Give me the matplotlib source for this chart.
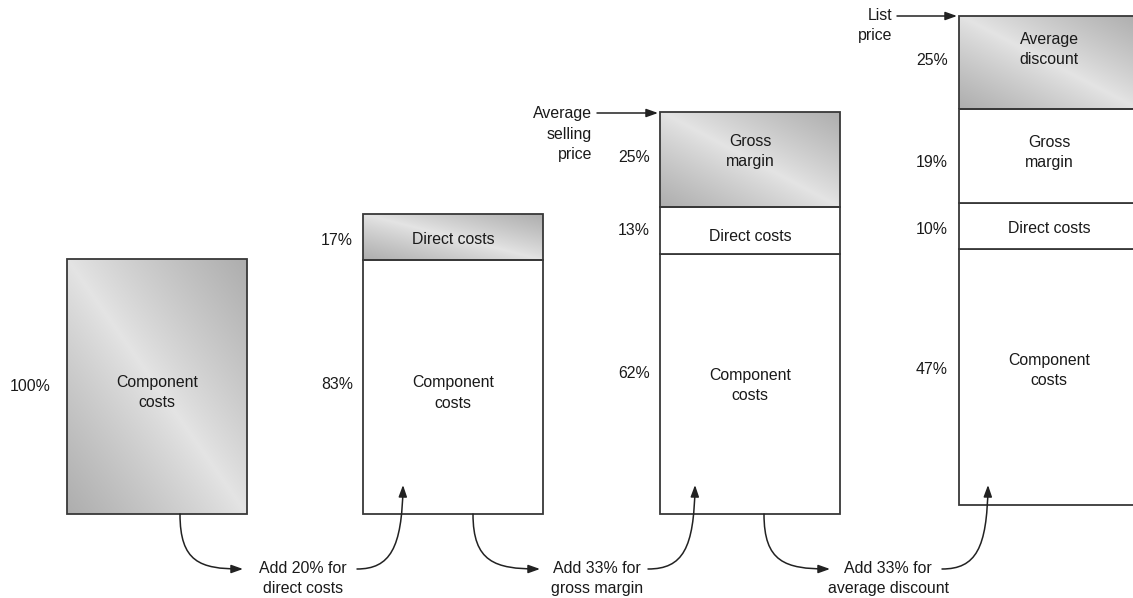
import numpy as np
import matplotlib
matplotlib.use("Agg")
import matplotlib.pyplot as plt
from matplotlib.path import Path
from matplotlib.patches import FancyArrowPatch

plt.rcParams['font.family'] = ['Liberation Sans', 'DejaVu Sans']

# ---------------- data ----------------
# drawn segment heights (units: first bar = 100), bottom -> top
bar1_heights = [100.0]
bar2_heights = [99.6, 18.0]
bar3_heights = [102.0, 18.4, 37.3]
bar4_heights = [100.4, 18.0, 36.9, 36.5]
bar_bottoms = [0.0, 0.0, 0.0, 3.5]

bar1_labels = ["Component\ncosts"]
bar2_labels = ["Component\ncosts", "Direct costs"]
bar3_labels = ["Component\ncosts", "Direct costs", "Gross\nmargin"]
bar4_labels = ["Component\ncosts", "Direct costs", "Gross\nmargin", "Average\ndiscount"]

bar1_pct = ["100%"]
bar2_pct = ["83%", "17%"]
bar3_pct = ["62%", "13%", "25%"]
bar4_pct = ["47%", "10%", "19%", "25%"]

# which segments are shaded (gradient)
bar1_shaded = [True]
bar2_shaded = [False, True]
bar3_shaded = [False, False, True]
bar4_shaded = [False, False, False, True]

step_labels = ["Add 20% for\ndirect costs", "Add 33% for\ngross margin",
               "Add 33% for\naverage discount"]
price_labels = ["Average\nselling\nprice", "List\nprice"]

# ---------------- layout / style ----------------
# small vertical nudges of texts (pixels, positive = down)
label_nudge = [[6], [6, 2], [2, 6, -8], [-7, 2, -4, -13]]
pct_nudge = [[0], [-3, 3], [-10, 0, -2], [-8, 3, 6, -2]]

W, H = 1133, 598
fig = plt.figure(figsize=(W / 100, H / 100), dpi=100)
ax = fig.add_axes([0, 0, 1, 1])
PX = 2.55          # pixels per unit
BASE = 514         # pixel row of the unit baseline
ax.set_xlim(0, W)
ax.set_ylim((BASE - H) / PX, BASE / PX)
ax.axis('off')

ov = fig.add_axes([0, 0, 1, 1])
ov.set_xlim(0, W)
ov.set_ylim(H, 0)
ov.axis('off')
ov.patch.set_visible(False)

FS = 11.4
LS = 1.42
EDGE = '#383838'
TXT = '#1a1a1a'

bar_centers = [157, 453, 750, 1049]
bar_width = 180
pct_right_gap = [16, 10, 10, 11]

all_h = [bar1_heights, bar2_heights, bar3_heights, bar4_heights]
all_l = [bar1_labels, bar2_labels, bar3_labels, bar4_labels]
all_p = [bar1_pct, bar2_pct, bar3_pct, bar4_pct]
all_s = [bar1_shaded, bar2_shaded, bar3_shaded, bar4_shaded]

# gradient image
nu, nv = 300, 300
u = np.linspace(0, 1, nu)[None, :]
v = np.linspace(0, 1, nv)[:, None]
t = np.abs(u - v)
light, dark = 0.895, 0.68
g = light - (light - dark) * np.clip(t, 0, 1) ** 0.9
grad = np.dstack([g, g, g])

for i in range(4):
    bottom = bar_bottoms[i]
    xc = bar_centers[i]
    for j, (h, lab, pct, sh) in enumerate(zip(all_h[i], all_l[i], all_p[i], all_s[i])):
        rects = ax.bar(xc, h, width=bar_width, bottom=bottom,
                       facecolor='white' if not sh else 'none',
                       edgecolor=EDGE, linewidth=1.3, zorder=3)
        if sh:
            r = rects[0]
            im = ax.imshow(grad, extent=(xc - bar_width / 2, xc + bar_width / 2,
                                         bottom, bottom + h),
                           origin='upper', aspect='auto', zorder=2,
                           interpolation='bilinear')
            im.set_clip_path(r)
        ymid = bottom + h / 2
        ax.text(xc, ymid - label_nudge[i][j] / PX, lab, ha='center', va='center',
                fontsize=FS, color=TXT, linespacing=LS, zorder=5)
        ax.text(xc - bar_width / 2 - pct_right_gap[i], ymid - pct_nudge[i][j] / PX, pct,
                ha='right', va='center', fontsize=FS, color=TXT, zorder=5)
        bottom += h

ax.set_xlim(0, W)
ax.set_ylim((BASE - H) / PX, BASE / PX)

# ---------------- arrows ----------------
def curve(p0, p1, p2, p3):
    path = Path([p0, p1, p2, p3], [Path.MOVETO, Path.CURVE4, Path.CURVE4, Path.CURVE4])
    a = FancyArrowPatch(path=path, arrowstyle='-|>,head_length=0.7,head_width=0.25',
                        mutation_scale=10, color='#222222', lw=1.1, zorder=6)
    ov.add_patch(a)

curves_out = [((180, 514), (180, 562), (200, 569), (243, 569)),
              ((473, 514), (473, 562), (495, 569), (540, 569)),
              ((764, 514), (764, 562), (785, 569), (830, 569))]
curves_in = [((357, 569), (390, 569), (402, 548), (403, 485)),
             ((648, 569), (683, 569), (694, 548), (695, 485)),
             ((942, 569), (976, 569), (987, 548), (988, 485))]
step_x = [303, 597, 888]
for c in curves_out:
    curve(*c)
for c in curves_in:
    curve(*c)
for x, s in zip(step_x, step_labels):
    ov.text(x, 578.5, s, ha='center', va='center', fontsize=FS, color=TXT,
            linespacing=1.35)

# price annotations
ov.text(592, 134, price_labels[0], ha='right', va='center', fontsize=FS,
        color=TXT, linespacing=LS, multialignment='right')
ov.annotate('', xy=(658, 113), xytext=(597, 113),
            arrowprops=dict(arrowstyle='-|>,head_length=0.7,head_width=0.25',
                            mutation_scale=10, color='#222222', lw=1.1,
                            shrinkA=0, shrinkB=0))
ov.text(892, 25.5, price_labels[1], ha='right', va='center', fontsize=FS,
        color=TXT, linespacing=LS, multialignment='right')
ov.annotate('', xy=(957, 16), xytext=(897, 16),
            arrowprops=dict(arrowstyle='-|>,head_length=0.7,head_width=0.25',
                            mutation_scale=10, color='#222222', lw=1.1,
                            shrinkA=0, shrinkB=0))

fig.savefig('out.png', dpi=100, facecolor='white')
